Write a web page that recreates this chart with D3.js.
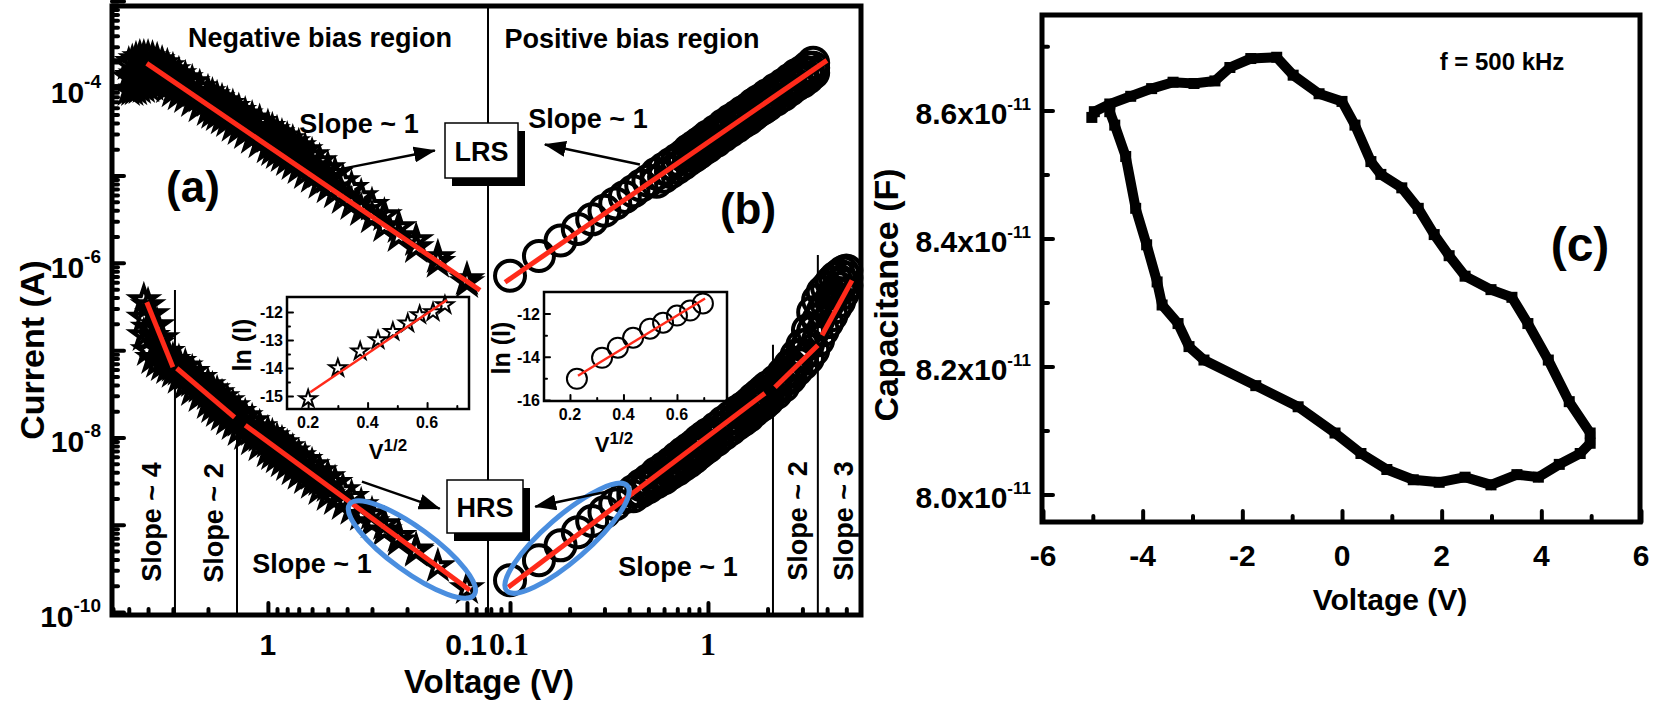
<!DOCTYPE html>
<html><head><meta charset="utf-8">
<script src="https://cdn.jsdelivr.net/npm/d3@7"></script>
<style>
body{margin:0;background:#fff;}
svg text{font-family:"Liberation Sans",Arial,sans-serif;font-weight:bold;fill:#000;}
</style></head><body>
<svg id="chart" width="1654" height="709"></svg>
<script>
// ---------------- DATA ----------------
const sweepVoltage = [0.1,0.14,0.18,0.22,0.26,0.3,0.34,0.38,0.42,0.46,0.5,0.55,0.6,0.65,0.7,0.75,0.8,0.85,0.9,0.95,1.0,1.1,1.2,1.3,1.4,1.5,1.6,1.7,1.8,1.9,2.0,2.2,2.4,2.6,2.8,3.0,3.2,3.4,3.6,3.8,4.0,4.2,4.4,4.6,4.8,5.0];

// LRS, negative bias (|V|), stars
const lrsNegUp = [6.5e-7,1.16e-6,1.82e-6,2.56e-6,3.5e-6,4.6e-6,5.8e-6,7.2e-6,8.6e-6,1.04e-5,1.21e-5,1.46e-5,1.71e-5,1.95e-5,2.17e-5,2.4e-5,2.6e-5,2.8e-5,3.05e-5,3.3e-5,3.6e-5,4.1e-5,4.5e-5,5.0e-5,5.5e-5,6.1e-5,6.6e-5,7.1e-5,7.7e-5,8.3e-5,9.0e-5,1.03e-4,1.17e-4,1.30e-4,1.45e-4,1.61e-4,1.79e-4,1.93e-4,2.09e-4,2.2e-4,2.26e-4,2.26e-4,2.26e-4,2.15e-4,2.0e-4,1.88e-4];
const lrsNegMid = [null,null,null,null,null,null,null,null,null,null,9.4e-6,1.09e-5,1.28e-5,1.44e-5,1.62e-5,1.8e-5,1.97e-5,2.16e-5,2.34e-5,2.54e-5,2.75e-5,3.14e-5,3.49e-5,3.9e-5,4.32e-5,4.75e-5,5.27e-5,5.65e-5,6.14e-5,6.57e-5,7.1e-5,7.99e-5,9.11e-5,1.01e-4,1.11e-4,1.22e-4,1.36e-4,1.46e-4,1.52e-4,1.54e-4,1.54e-4,1.53e-4,1.5e-4,1.44e-4,1.38e-4,1.34e-4];
const lrsNegDown = [6.0e-7,1.02e-6,1.51e-6,2.02e-6,2.62e-6,3.3e-6,4.0e-6,4.7e-6,5.5e-6,6.4e-6,7.3e-6,8.2e-6,9.6e-6,1.06e-5,1.21e-5,1.35e-5,1.5e-5,1.66e-5,1.8e-5,1.95e-5,2.1e-5,2.4e-5,2.7e-5,3.05e-5,3.4e-5,3.7e-5,4.2e-5,4.5e-5,4.9e-5,5.2e-5,5.6e-5,6.2e-5,7.1e-5,7.9e-5,8.5e-5,9.2e-5,1.03e-4,1.11e-4,1.11e-4,1.08e-4,1.05e-4,1.03e-4,1.0e-4,9.7e-5,9.5e-5,9.5e-5];
// LRS, positive bias, circles
const lrsPosUp = [7.1e-7,1.20e-6,1.80e-6,2.44e-6,3.15e-6,3.96e-6,4.8e-6,5.7e-6,6.6e-6,7.7e-6,8.7e-6,1.05e-5,1.20e-5,1.36e-5,1.52e-5,1.69e-5,1.94e-5,2.12e-5,2.33e-5,2.54e-5,2.81e-5,3.25e-5,3.76e-5,4.27e-5,4.75e-5,5.3e-5,5.8e-5,6.5e-5,7.1e-5,7.6e-5,8.4e-5,9.7e-5,1.10e-4,1.25e-4,1.42e-4,1.55e-4,1.73e-4,1.96e-4,null,null,null,null,null,null,null,null];
const lrsPosMid = [null,null,null,null,null,null,null,null,null,null,null,null,null,null,null,null,1.72e-5,1.88e-5,2.06e-5,2.25e-5,2.46e-5,2.84e-5,3.29e-5,3.74e-5,4.16e-5,4.65e-5,5.09e-5,5.68e-5,6.25e-5,6.7e-5,7.33e-5,8.47e-5,9.61e-5,1.1e-4,1.24e-4,1.36e-4,1.52e-4,1.72e-4,null,null,null,null,null,null,null,null];
const lrsPosDown = [null,null,null,null,null,null,null,null,null,null,null,8.5e-6,9.7e-6,1.10e-5,1.23e-5,1.37e-5,1.53e-5,1.67e-5,1.83e-5,2.0e-5,2.16e-5,2.49e-5,2.88e-5,3.27e-5,3.65e-5,4.08e-5,4.46e-5,4.97e-5,5.5e-5,5.9e-5,6.4e-5,7.4e-5,8.4e-5,9.6e-5,1.09e-4,1.19e-4,1.33e-4,1.51e-4,null,null,null,null,null,null,null,null];
// HRS, negative bias, stars
const hrsNegUp = [1.87e-10,3.35e-10,5.2e-10,7.4e-10,1.01e-9,1.32e-9,1.67e-9,2.07e-9,2.48e-9,3.0e-9,3.5e-9,4.1e-9,4.8e-9,5.5e-9,6.1e-9,6.9e-9,7.7e-9,8.6e-9,9.3e-9,1.03e-8,1.12e-8,1.31e-8,1.53e-8,1.75e-8,1.95e-8,2.28e-8,2.6e-8,2.88e-8,3.21e-8,3.56e-8,3.96e-8,4.8e-8,5.6e-8,6.5e-8,7.3e-8,7.7e-8,9.5e-8,1.37e-7,1.93e-7,2.58e-7,3.27e-7,3.73e-7,null,null,null,null];
const hrsNegMid = [null,null,null,null,null,null,null,null,null,null,2.76e-9,3.23e-9,3.79e-9,4.32e-9,4.81e-9,5.45e-9,6.08e-9,6.75e-9,7.41e-9,8.12e-9,8.79e-9,1.03e-8,1.21e-8,1.38e-8,1.54e-8,1.8e-8,2.05e-8,2.27e-8,2.53e-8,2.81e-8,3.13e-8,3.77e-8,4.41e-8,5.14e-8,5.92e-8,6.57e-8,7.67e-8,9.58e-8,1.19e-7,1.45e-7,1.81e-7,2.35e-7,null,null,null,null];
const hrsNegDown = [null,null,5.0e-10,6.6e-10,8.6e-10,1.07e-9,1.29e-9,1.51e-9,1.72e-9,1.96e-9,2.18e-9,2.55e-9,3.0e-9,3.4e-9,3.8e-9,4.3e-9,4.8e-9,5.3e-9,5.9e-9,6.4e-9,6.9e-9,8.1e-9,9.5e-9,1.09e-8,1.21e-8,1.42e-8,1.61e-8,1.79e-8,2.0e-8,2.22e-8,2.47e-8,2.96e-8,3.48e-8,4.06e-8,4.8e-8,5.6e-8,6.2e-8,6.7e-8,7.3e-8,8.1e-8,1.0e-7,1.48e-7,null,null,null,null];
// HRS, positive bias, circles
const hrsPosUp = [2.31e-10,3.92e-10,5.8e-10,8.2e-10,1.10e-9,1.39e-9,1.72e-9,2.07e-9,2.42e-9,2.83e-9,3.24e-9,3.89e-9,4.44e-9,5.06e-9,5.8e-9,6.6e-9,7.3e-9,8.1e-9,9.1e-9,1.0e-8,1.09e-8,1.27e-8,1.49e-8,1.70e-8,1.95e-8,2.16e-8,2.40e-8,2.74e-8,3.04e-8,3.38e-8,3.76e-8,4.41e-8,5.4e-8,6.7e-8,8.7e-8,1.14e-7,1.69e-7,2.72e-7,3.73e-7,4.6e-7,5.2e-7,6.0e-7,6.7e-7,7.2e-7,7.8e-7,8.2e-7];
const hrsPosMid = [null,null,null,null,null,null,null,null,null,null,2.95e-9,3.46e-9,3.89e-9,4.44e-9,4.99e-9,5.63e-9,6.22e-9,6.91e-9,7.75e-9,8.54e-9,9.28e-9,1.09e-8,1.27e-8,1.45e-8,1.66e-8,1.84e-8,2.05e-8,2.34e-8,2.6e-8,2.85e-8,3.17e-8,3.76e-8,4.56e-8,5.67e-8,7.16e-8,8.87e-8,1.17e-7,1.65e-7,2.2e-7,2.79e-7,3.3e-7,3.88e-7,4.56e-7,5.11e-7,5.92e-7,6.72e-7];
const hrsPosDown = [null,null,null,null,null,null,null,null,2.12e-9,2.42e-9,2.69e-9,3.07e-9,3.4e-9,3.89e-9,4.3e-9,4.8e-9,5.3e-9,5.9e-9,6.6e-9,7.3e-9,7.9e-9,9.3e-9,1.09e-8,1.24e-8,1.42e-8,1.57e-8,1.75e-8,2.0e-8,2.22e-8,2.40e-8,2.67e-8,3.21e-8,3.85e-8,4.8e-8,5.9e-8,6.9e-8,8.1e-8,1.0e-7,1.30e-7,1.69e-7,2.09e-7,2.51e-7,3.10e-7,3.63e-7,4.49e-7,5.5e-7];

// Linear fits (end points, V and I)
const fitLrsNegV = [4.06, 0.086], fitLrsNegI = [1.93e-4, 4.85e-7];
const fitLrsPosV = [0.0944, 3.99], fitLrsPosI = [6.0e-7, 2.09e-4];
const fitHrsNegV = [[4.06,3.0],[2.87,1.47],[1.30,0.0966]];
const fitHrsNegI = [[3.54e-7,6.4e-8],[6.2e-8,1.7e-8],[1.38e-8,1.78e-10]];
const fitHrsPosV = [[0.098,1.94],[2.18,3.59],[3.77,5.34]];
const fitHrsPosI = [[1.92e-10,3.21e-8],[3.76e-8,1.14e-7],[1.48e-7,6.3e-7]];

// regime boundaries
const negBoundV = [2.93, 1.43], negBoundTopI = [4.9e-7, 1.1e-8];
const posBoundV = [2.13, 3.59], posBoundTopI = [1.15e-7, 1.23e-6];

// inset (a): ln(I) vs V^1/2, negative bias
const insetASqrtV = [0.2,0.3,0.375,0.435,0.485,0.535,0.575,0.62,0.66];
const insetALnI = [-15.1,-14.0,-13.4,-13.0,-12.7,-12.4,-12.1,-12.0,-11.75];
const insetAFitX = [0.207,0.667], insetAFitY = [-14.86,-11.57];
// inset (b)
const insetBSqrtV = [0.226,0.32,0.379,0.436,0.499,0.548,0.6,0.649,0.697];
const insetBLnI = [-15.02,-14.05,-13.58,-13.12,-12.70,-12.42,-12.09,-11.86,-11.53];
const insetBFitX = [0.23,0.705], insetBFitY = [-14.88,-11.30];

// panel (c) C-V loop
const capVoltage = [-5.02,-4.97,-4.66,-4.24,-3.82,-3.39,-2.97,-2.55,-2.25,-1.83,-1.31,-0.98,-0.46,0.0,0.26,0.58,0.78,1.20,1.53,1.85,2.15,2.47,2.99,3.41,3.73,4.14,4.56,4.98,4.98,4.78,4.36,3.94,3.51,2.99,2.47,1.95,1.43,0.90,0.38,-0.14,-0.88,-1.73,-2.77,-3.07,-3.29,-3.61,-3.71,-3.92,-4.14,-4.34,-4.56,-4.66];
const capValue = [8.589,8.598,8.610,8.622,8.634,8.644,8.642,8.646,8.667,8.681,8.683,8.655,8.626,8.614,8.577,8.520,8.500,8.479,8.447,8.406,8.373,8.341,8.320,8.308,8.267,8.210,8.145,8.096,8.080,8.064,8.047,8.027,8.031,8.015,8.027,8.019,8.023,8.039,8.064,8.096,8.137,8.170,8.210,8.231,8.267,8.296,8.332,8.390,8.447,8.528,8.577,8.598].map(c => c*1e-11);

const yTickExponents = [-4,-6,-8,-10];
const capTicks = [8.0e-11, 8.2e-11, 8.4e-11, 8.6e-11];
const capTickLabels = ["8.0","8.2","8.4","8.6"];
const voltTicksC = [-6,-4,-2,0,2,4,6];

// ---------------- SCALES ----------------
const svg = d3.select("#chart");
const RED = "#ff2a1a", BLUE = "#4a8edf";
const xNeg = d3.scaleLog().domain([6, 0.0784]).range([113, 488]);
const xPos = d3.scaleLog().domain([0.0774, 6]).range([488, 862]);
const yI = d3.scaleLog().domain([1e-10, 1e-3]).range([612, 1]);

const defs = svg.append("defs");
defs.append("marker").attr("id","ah").attr("markerUnits","userSpaceOnUse")
  .attr("markerWidth",22).attr("markerHeight",16).attr("refX",21).attr("refY",8).attr("orient","auto")
  .append("path").attr("d","M0,0 L22,8 L0,16 Z").attr("fill","#000");

// ---------------- PANEL a/b ----------------
const gAB = svg.append("g");
gAB.append("line").attr("x1",488).attr("x2",488).attr("y1",6).attr("y2",615).attr("stroke","#000").attr("stroke-width",2);
negBoundV.forEach((v,k)=>gAB.append("line").attr("x1",xNeg(v)).attr("x2",xNeg(v)).attr("y1",yI(negBoundTopI[k])).attr("y2",615).attr("stroke","#000").attr("stroke-width",2));
posBoundV.forEach((v,k)=>gAB.append("line").attr("x1",xPos(v)).attr("x2",xPos(v)).attr("y1",yI(posBoundTopI[k])).attr("y2",615).attr("stroke","#000").attr("stroke-width",2));

function pts(V, I){ return V.map((v,k)=>({v, i:I[k]})).filter(d=>d.i!=null); }
const starGen = r => d3.symbol(d3.symbolStar, r*r/0.8908130915292852);
function stars(g, xs, ys, data, r, sw){
  g.selectAll(null).data(data).enter().append("path")
    .attr("d", starGen(r)).attr("transform", d=>`translate(${xs(d.v)},${ys(d.i)})`)
    .attr("fill","none").attr("stroke","#000").attr("stroke-width",sw).attr("stroke-linejoin","miter");
}
function circles(g, xs, ys, data, r, sw){
  g.selectAll(null).data(data).enter().append("circle")
    .attr("cx", d=>xs(d.v)).attr("cy", d=>ys(d.i)).attr("r", r)
    .attr("fill","none").attr("stroke","#000").attr("stroke-width",sw);
}
const gData = gAB.append("g");
[lrsNegUp, lrsNegMid, lrsNegDown, hrsNegUp, hrsNegMid, hrsNegDown].forEach(s=>stars(gData, xNeg, yI, pts(sweepVoltage, s), 13, 4));
[lrsPosUp, lrsPosMid, lrsPosDown, hrsPosUp, hrsPosMid, hrsPosDown].forEach(s=>circles(gData, xPos, yI, pts(sweepVoltage, s), 15, 4));

function fitLine(g, xs, V, I, w){
  g.append("line").attr("x1",xs(V[0])).attr("y1",yI(I[0])).attr("x2",xs(V[1])).attr("y2",yI(I[1]))
   .attr("stroke",RED).attr("stroke-width",w);
}
fitLine(gAB, xNeg, fitLrsNegV, fitLrsNegI, 5);
fitLine(gAB, xPos, fitLrsPosV, fitLrsPosI, 5);
fitHrsNegV.forEach((V,k)=>fitLine(gAB, xNeg, V, fitHrsNegI[k], 5));
fitHrsPosV.forEach((V,k)=>fitLine(gAB, xPos, V, fitHrsPosI[k], 5));

const ellNeg = {v:0.189, i:5.2e-10, rx:77, ry:22, ang:36};
const ellPos = {v:0.194, i:7.0e-10, rx:80, ry:22, ang:-41};
[[ellNeg,xNeg],[ellPos,xPos]].forEach(([e,xs])=>{
  gAB.append("ellipse").attr("cx",0).attr("cy",0).attr("rx",e.rx).attr("ry",e.ry)
    .attr("transform",`translate(${xs(e.v)},${yI(e.i)}) rotate(${e.ang})`)
    .attr("fill","none").attr("stroke",BLUE).attr("stroke-width",5);
});

gAB.append("rect").attr("x",112).attr("y",6).attr("width",749).attr("height",609)
  .attr("fill","none").attr("stroke","#000").attr("stroke-width",5);

function styleAxis(sel, w){ sel.select(".domain").remove(); sel.selectAll("line").attr("stroke","#000").attr("stroke-width",w).attr("stroke-linecap","round"); sel.selectAll("text").remove(); }
const yMajor = d3.range(-10,-2).map(e=>Math.pow(10,e));
const yMinor = [];
d3.range(-10,-3).forEach(e=>{ for(let m=2;m<=9;m++) yMinor.push(m*Math.pow(10,e)); });
gAB.append("g").attr("transform","translate(112,0)").call(d3.axisLeft(yI).tickValues(yMinor).tickSize(-6)).call(s=>styleAxis(s,4));
gAB.append("g").attr("transform","translate(112,0)").call(d3.axisLeft(yI).tickValues(yMajor).tickSize(-12)).call(s=>styleAxis(s,4));
const xMinorNeg = [6,5,4,3,2,0.9,0.8,0.7,0.6,0.5,0.4,0.3,0.2,0.09,0.08];
const xMinorPos = [0.08,0.09,0.2,0.3,0.4,0.5,0.6,0.7,0.8,0.9,2,3,4,5];
gAB.append("g").attr("transform","translate(0,615)").call(d3.axisBottom(xNeg).tickValues(xMinorNeg).tickSize(-6)).call(s=>styleAxis(s,4));
gAB.append("g").attr("transform","translate(0,615)").call(d3.axisBottom(xNeg).tickValues([1,0.1]).tickSize(-12)).call(s=>styleAxis(s,4));
gAB.append("g").attr("transform","translate(0,615)").call(d3.axisBottom(xPos).tickValues(xMinorPos).tickSize(-6)).call(s=>styleAxis(s,4));
gAB.append("g").attr("transform","translate(0,615)").call(d3.axisBottom(xPos).tickValues([0.1,1]).tickSize(-12)).call(s=>styleAxis(s,4));

yTickExponents.forEach(e=>{
  const t = gAB.append("text").attr("x",101).attr("y",yI(Math.pow(10,e))+15).attr("text-anchor","end").attr("font-size",30);
  t.append("tspan").text("10");
  t.append("tspan").attr("font-size",19).attr("dy",-15).text(String(e));
});
gAB.append("text").attr("x",xNeg(1)).attr("y",655).attr("text-anchor","middle").attr("font-size",30).text("1");
gAB.append("text").attr("x",487).attr("y",655).attr("text-anchor","end").attr("font-size",30).text("0.1");
gAB.append("text").attr("x",489).attr("y",655).attr("text-anchor","start").attr("font-size",32).style("font-family","'Liberation Serif','Times New Roman',serif").text("0.1");
gAB.append("text").attr("x",xPos(1)).attr("y",655).attr("text-anchor","middle").attr("font-size",32).style("font-family","'Liberation Serif','Times New Roman',serif").text("1");

gAB.append("text").attr("transform","translate(44,350) rotate(-90)").attr("text-anchor","middle").attr("font-size",34).text("Current (A)");
gAB.append("text").attr("x",489).attr("y",693).attr("text-anchor","middle").attr("font-size",33).text("Voltage (V)");

const ann = (x,y,s,fs)=>gAB.append("text").attr("x",x).attr("y",y).attr("text-anchor","middle").attr("font-size",fs).text(s);
ann(320,47,"Negative bias region",27);
ann(632,48,"Positive bias region",27);
ann(359,133,"Slope ~ 1",27);
ann(588,128,"Slope ~ 1",27);
ann(312,573,"Slope ~ 1",27);
ann(678,576,"Slope ~ 1",27);
ann(193,202,"(a)",44);
ann(748,224,"(b)",44);
const rot = (x,y,s)=>gAB.append("text").attr("transform",`translate(${x},${y}) rotate(-90)`).attr("text-anchor","middle").attr("font-size",27).text(s);
rot(161,522,"Slope ~ 4");
rot(223,523,"Slope ~ 2");
rot(807,521,"Slope ~ 2");
rot(853,521,"Slope ~ 3");

const arrowsNeg = [[0.472,1.14e-5,0.145,1.94e-5],[0.337,3.12e-9,0.137,1.53e-9]];
const arrowsPos = [[0.453,1.34e-5,0.150,2.27e-5],[0.368,2.6e-9,0.134,1.61e-9]];
arrowsNeg.forEach(a=>gAB.append("line").attr("x1",xNeg(a[0])).attr("y1",yI(a[1])).attr("x2",xNeg(a[2])).attr("y2",yI(a[3])).attr("stroke","#000").attr("stroke-width",2.5).attr("marker-end","url(#ah)"));
arrowsPos.forEach(a=>gAB.append("line").attr("x1",xPos(a[0])).attr("y1",yI(a[1])).attr("x2",xPos(a[2])).attr("y2",yI(a[3])).attr("stroke","#000").attr("stroke-width",2.5).attr("marker-end","url(#ah)"));

function box(x,y,w,h,s){
  gAB.append("rect").attr("x",x+7).attr("y",y+8).attr("width",w).attr("height",h).attr("fill","#000");
  gAB.append("rect").attr("x",x).attr("y",y).attr("width",w).attr("height",h).attr("fill","#fff").attr("stroke","#000").attr("stroke-width",1.5);
  gAB.append("text").attr("x",x+w/2).attr("y",y+h/2+10).attr("text-anchor","middle").attr("font-size",27).text(s);
}
box(445,123,73,55,"LRS");
box(447,480,76,53,"HRS");

// ---------------- INSETS ----------------
function inset(cfg){
  const g = svg.append("g");
  const xs = d3.scaleLinear().domain(cfg.xd).range([cfg.x0,cfg.x1]);
  const ys = d3.scaleLinear().domain(cfg.yd).range([cfg.y1,cfg.y0]);
  g.append("rect").attr("x",cfg.x0).attr("y",cfg.y0).attr("width",cfg.x1-cfg.x0).attr("height",cfg.y1-cfg.y0)
    .attr("fill","none").attr("stroke","#000").attr("stroke-width",2.5);
  g.append("g").attr("transform",`translate(0,${cfg.y1})`).call(d3.axisBottom(xs).tickValues([0.3,0.5,0.7]).tickSize(-3)).call(s=>styleAxis(s,2));
  g.append("g").attr("transform",`translate(0,${cfg.y1})`).call(d3.axisBottom(xs).tickValues([0.2,0.4,0.6]).tickSize(-6)).call(s=>styleAxis(s,2));
  g.append("g").attr("transform",`translate(${cfg.x0},0)`).call(d3.axisLeft(ys).tickValues(cfg.yMinor).tickSize(-3)).call(s=>styleAxis(s,2));
  g.append("g").attr("transform",`translate(${cfg.x0},0)`).call(d3.axisLeft(ys).tickValues(cfg.yMajor).tickSize(-6)).call(s=>styleAxis(s,2));
  cfg.yMajor.forEach(v=>g.append("text").attr("x",cfg.x0-4).attr("y",ys(v)+6).attr("text-anchor","end").attr("font-size",16).text(String(v)));
  [0.2,0.4,0.6].forEach(v=>g.append("text").attr("x",xs(v)).attr("y",cfg.y1+19).attr("text-anchor","middle").attr("font-size",16).text(v.toFixed(1)));
  g.append("text").attr("transform",`translate(${cfg.lnX},${cfg.lnY}) rotate(-90)`).attr("text-anchor","middle").attr("font-size",25).text("ln (I)");
  const vt = g.append("text").attr("x",cfg.vX).attr("y",cfg.vY).attr("text-anchor","middle").attr("font-size",22);
  vt.append("tspan").text("V"); vt.append("tspan").attr("font-size",17).attr("dy",-8).text("1/2");
  const data = cfg.sx.map((s,k)=>({v:s, i:cfg.ly[k]}));
  if(cfg.star) stars(g, xs, ys, data, 9, 2); else circles(g, xs, ys, data, 10, 2);
  g.append("line").attr("x1",xs(cfg.fx[0])).attr("y1",ys(cfg.fy[0])).attr("x2",xs(cfg.fx[1])).attr("y2",ys(cfg.fy[1])).attr("stroke",RED).attr("stroke-width",2.5);
}
inset({xd:[0.129,0.741], yd:[-15.46,-11.46], x0:287,x1:469,y0:297,y1:409, yMajor:[-12,-13,-14,-15], yMinor:[-12.5,-13.5,-14.5],
  lnX:251,lnY:345, vX:388,vY:459, sx:insetASqrtV, ly:insetALnI, fx:insetAFitX, fy:insetAFitY, star:true});
inset({xd:[0.103,0.787], yd:[-16.05,-11.0], x0:544,x1:727,y0:292,y1:401, yMajor:[-12,-14,-16], yMinor:[-13,-15],
  lnX:510,lnY:348, vX:614,vY:452, sx:insetBSqrtV, ly:insetBLnI, fx:insetBFitX, fy:insetBFitY, star:false});

// ---------------- PANEL c ----------------
const gC = svg.append("g");
const xC = d3.scaleLinear().domain([-6,6]).range([1043,1641]);
const yC = d3.scaleLinear().domain([7.957e-11, 8.749e-11]).range([522,15]);
const loop = capVoltage.map((v,k)=>({v, c:capValue[k]}));
gC.append("path").datum(loop).attr("d", d3.line().x(d=>xC(d.v)).y(d=>yC(d.c)))
  .attr("fill","none").attr("stroke","#000").attr("stroke-width",10).attr("stroke-linejoin","miter");
gC.selectAll(null).data(loop).enter().append("rect")
  .attr("x",d=>xC(d.v)-5.5).attr("y",d=>yC(d.c)-5.5).attr("width",11).attr("height",11).attr("fill","#000");
gC.append("rect").attr("x",1042).attr("y",15).attr("width",598).attr("height",507).attr("fill","none").attr("stroke","#000").attr("stroke-width",5);
gC.append("g").attr("transform","translate(0,522)").call(d3.axisBottom(xC).tickValues([-5,-3,-1,1,3,5]).tickSize(-6)).call(s=>styleAxis(s,4));
gC.append("g").attr("transform","translate(0,522)").call(d3.axisBottom(xC).tickValues(voltTicksC).tickSize(-11)).call(s=>styleAxis(s,4));
gC.append("g").attr("transform","translate(1042,0)").call(d3.axisLeft(yC).tickValues([8.1e-11,8.3e-11,8.5e-11,8.7e-11]).tickSize(-6)).call(s=>styleAxis(s,4));
gC.append("g").attr("transform","translate(1042,0)").call(d3.axisLeft(yC).tickValues(capTicks).tickSize(-11)).call(s=>styleAxis(s,4));
capTicks.forEach((c,k)=>{
  const t = gC.append("text").attr("x",1031).attr("y",yC(c)+14).attr("text-anchor","end").attr("font-size",30);
  t.append("tspan").text(capTickLabels[k]+"x10");
  t.append("tspan").attr("font-size",17).attr("dy",-14).text("-11");
});
voltTicksC.forEach(v=>gC.append("text").attr("x",xC(v)).attr("y",566).attr("text-anchor","middle").attr("font-size",30).text(String(v)));
gC.append("text").attr("x",1390).attr("y",610).attr("text-anchor","middle").attr("font-size",30).text("Voltage (V)");
gC.append("text").attr("transform","translate(898,295) rotate(-90)").attr("text-anchor","middle").attr("font-size",34).text("Capacitance (F)");
gC.append("text").attr("x",1502).attr("y",70).attr("text-anchor","middle").attr("font-size",24).text("f = 500 kHz");
gC.append("text").attr("x",1580).attr("y",261).attr("text-anchor","middle").attr("font-size",48).text("(c)");
</script>
</body></html>
